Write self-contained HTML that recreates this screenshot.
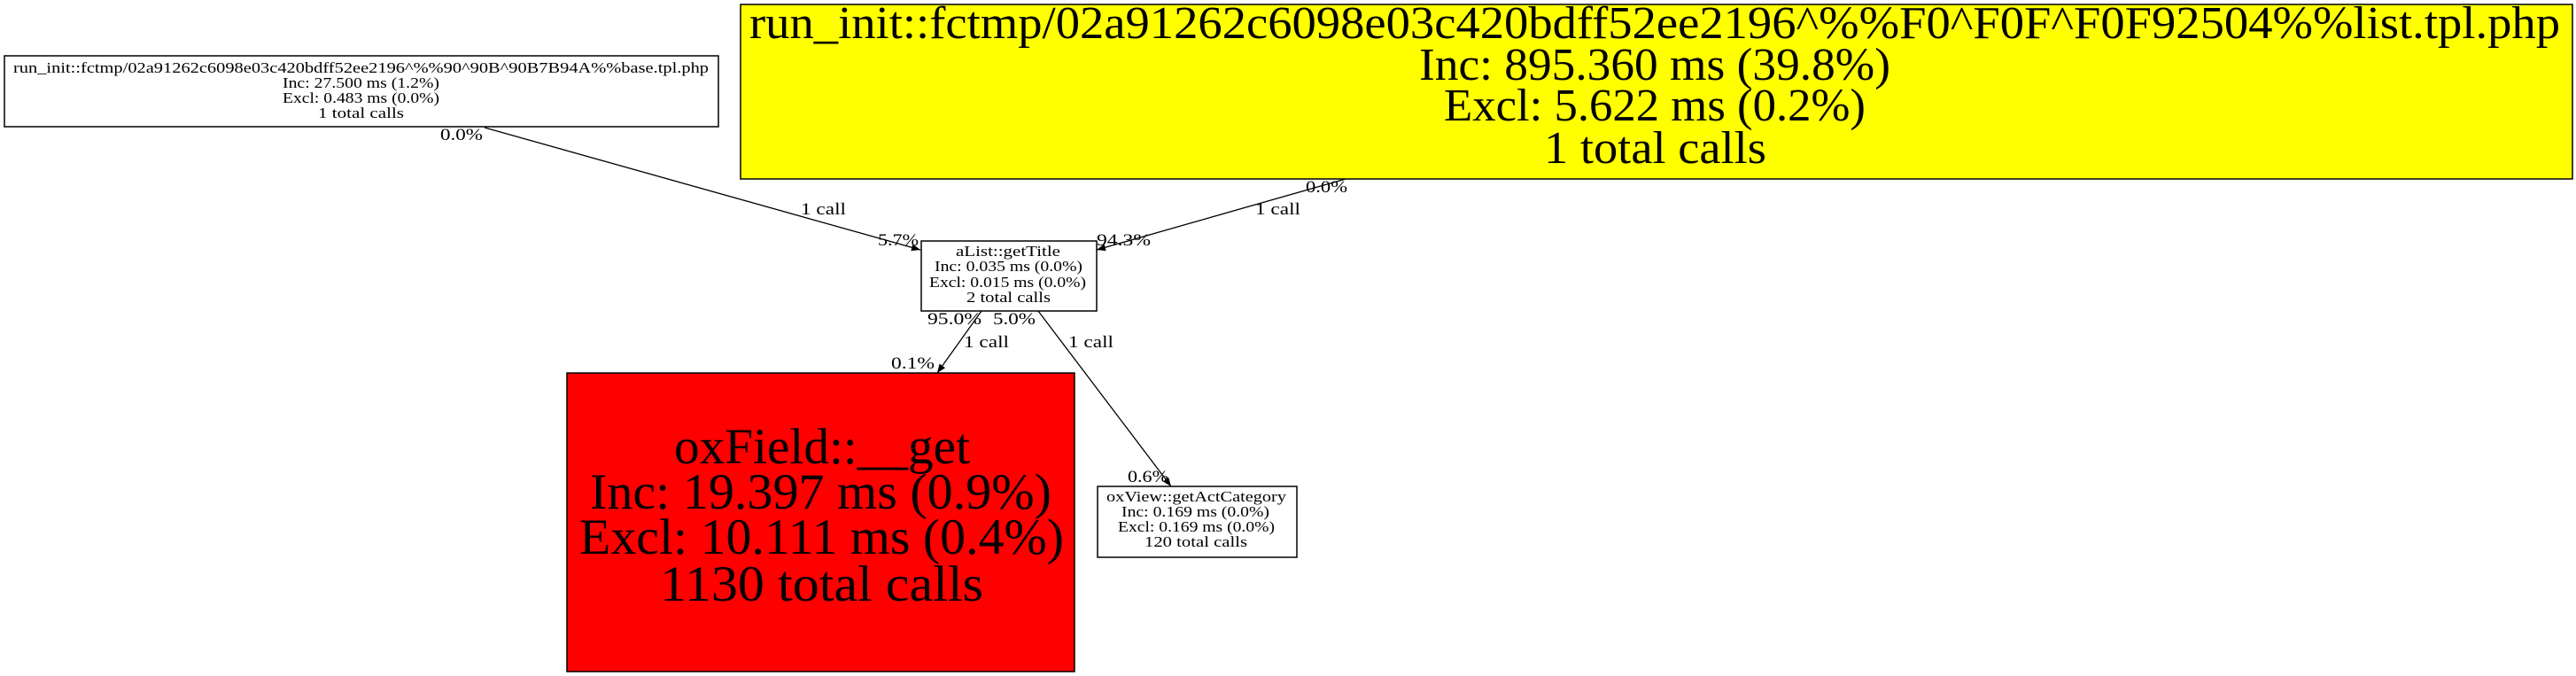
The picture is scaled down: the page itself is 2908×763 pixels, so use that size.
<!DOCTYPE html>
<html><head><meta charset="utf-8"><style>html,body{margin:0;padding:0;background:#fff}svg{display:block}</style></head>
<body>
<svg width="2908" height="763" viewBox="0 0 2908 763" xmlns="http://www.w3.org/2000/svg" font-family="Liberation Serif, serif">
<defs><marker id="a" markerWidth="10" markerHeight="8" refX="10" refY="4" orient="auto" markerUnits="userSpaceOnUse"><path d="M0,0 L10,4 L0,8 z" fill="#000"/></marker></defs>
<g fill="none" stroke="#000" stroke-width="1.3">
<line x1="547" y1="144" x2="1039" y2="282" marker-end="url(#a)"/>
<line x1="1519" y1="202" x2="1238" y2="282" marker-end="url(#a)"/>
<line x1="1108" y1="351" x2="1058" y2="421" marker-end="url(#a)"/>
<line x1="1172" y1="351" x2="1322" y2="549" marker-end="url(#a)"/>
</g>
<rect x="5" y="63" width="806" height="80" fill="#fff" stroke="#000" stroke-width="1.5"/>
<rect x="836" y="5" width="2068" height="197" fill="#ff0" stroke="#000" stroke-width="1.5"/>
<rect x="1040" y="272" width="198" height="79" fill="#fff" stroke="#000" stroke-width="1.5"/>
<rect x="640" y="421" width="573" height="337" fill="#f00" stroke="#000" stroke-width="1.5"/>
<rect x="1239" y="549" width="225" height="80" fill="#fff" stroke="#000" stroke-width="1.5"/>
<g font-size="17" fill="#000">
<text x="15" y="82" textLength="785" lengthAdjust="spacingAndGlyphs">run_init::fctmp/02a91262c6098e03c420bdff52ee2196^%%90^90B^90B7B94A%%base.tpl.php</text>
<text x="319" y="99" textLength="177" lengthAdjust="spacingAndGlyphs">Inc: 27.500 ms (1.2%)</text>
<text x="319" y="116" textLength="177" lengthAdjust="spacingAndGlyphs">Excl: 0.483 ms (0.0%)</text>
<text x="359" y="133" textLength="97" lengthAdjust="spacingAndGlyphs">1 total calls</text>
<text x="1079" y="289" textLength="118" lengthAdjust="spacingAndGlyphs">aList::getTitle</text>
<text x="1055" y="306" textLength="167" lengthAdjust="spacingAndGlyphs">Inc: 0.035 ms (0.0%)</text>
<text x="1049" y="324" textLength="177" lengthAdjust="spacingAndGlyphs">Excl: 0.015 ms (0.0%)</text>
<text x="1091" y="341" textLength="95" lengthAdjust="spacingAndGlyphs">2 total calls</text>
<text x="1249" y="566" textLength="203" lengthAdjust="spacingAndGlyphs">oxView::getActCategory</text>
<text x="1266" y="583" textLength="167" lengthAdjust="spacingAndGlyphs">Inc: 0.169 ms (0.0%)</text>
<text x="1262" y="600" textLength="177" lengthAdjust="spacingAndGlyphs">Excl: 0.169 ms (0.0%)</text>
<text x="1292" y="617" textLength="116" lengthAdjust="spacingAndGlyphs">120 total calls</text>
</g>
<g font-size="19" fill="#000">
<text x="497" y="158" textLength="48" lengthAdjust="spacingAndGlyphs">0.0%</text>
<text x="904" y="242" textLength="51" lengthAdjust="spacingAndGlyphs">1 call</text>
<text x="991" y="277" textLength="46" lengthAdjust="spacingAndGlyphs">5.7%</text>
<text x="1474" y="217" textLength="47" lengthAdjust="spacingAndGlyphs">0.0%</text>
<text x="1417" y="242" textLength="51" lengthAdjust="spacingAndGlyphs">1 call</text>
<text x="1238" y="277" textLength="61" lengthAdjust="spacingAndGlyphs">94.3%</text>
<text x="1047" y="366" textLength="61" lengthAdjust="spacingAndGlyphs">95.0%</text>
<text x="1121" y="366" textLength="48" lengthAdjust="spacingAndGlyphs">5.0%</text>
<text x="1088" y="392" textLength="51" lengthAdjust="spacingAndGlyphs">1 call</text>
<text x="1206" y="392" textLength="51" lengthAdjust="spacingAndGlyphs">1 call</text>
<text x="1006" y="416" textLength="49" lengthAdjust="spacingAndGlyphs">0.1%</text>
<text x="1273" y="544" textLength="46" lengthAdjust="spacingAndGlyphs">0.6%</text>
</g>
<g font-size="52" fill="#000">
<text x="846" y="43" textLength="2044" lengthAdjust="spacingAndGlyphs">run_init::fctmp/02a91262c6098e03c420bdff52ee2196^%%F0^F0F^F0F92504%%list.tpl.php</text>
<text x="1602" y="90" textLength="532" lengthAdjust="spacingAndGlyphs">Inc: 895.360 ms (39.8%)</text>
<text x="1630" y="136" textLength="476" lengthAdjust="spacingAndGlyphs">Excl: 5.622 ms (0.2%)</text>
<text x="1743" y="184" textLength="251" lengthAdjust="spacingAndGlyphs">1 total calls</text>
</g>
<g font-size="57" fill="#000">
<text x="761" y="523" textLength="334" lengthAdjust="spacingAndGlyphs">oxField::__get</text>
<text x="666" y="574" textLength="521" lengthAdjust="spacingAndGlyphs">Inc: 19.397 ms (0.9%)</text>
<text x="654" y="625" textLength="547" lengthAdjust="spacingAndGlyphs">Excl: 10.111 ms (0.4%)</text>
<text x="745" y="678" textLength="365" lengthAdjust="spacingAndGlyphs">1130 total calls</text>
</g>
</svg>
</body></html>
